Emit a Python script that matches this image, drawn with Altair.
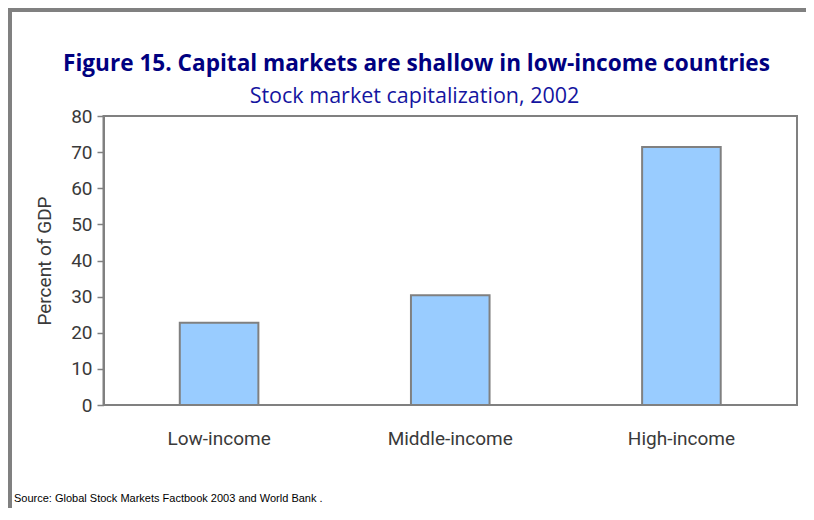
import altair as alt
import pandas as pd

categories = ["Low-income", "Middle-income", "High-income"]
values = [22.8, 30.4, 71.4]
y_ticks = [0, 10, 20, 30, 40, 50, 60, 70, 80]

title_text = "Figure 15. Capital markets are shallow in low-income countries"
subtitle_text = "Stock market capitalization, 2002"
y_title = "Percent of GDP"
source_text = "Source: Global Stock Markets Factbook 2003 and World Bank ."

df = pd.DataFrame({"category": categories, "value": values})

GRAY = "#808080"
LABEL = "#3a3a3a"

bars = alt.Chart(df).mark_bar(
    fill="#99CCFF", stroke=GRAY, strokeWidth=2
).encode(
    x=alt.X(
        "category:N", sort=categories,
        scale=alt.Scale(paddingInner=0.66, paddingOuter=0.33),
        axis=alt.Axis(title=None, labelAngle=0, ticks=False, domain=False,
                      labelPadding=24, labelFontSize=19, labelColor=LABEL,
                      labelFont="Roboto"),
    ),
    y=alt.Y(
        "value:Q", scale=alt.Scale(domain=[0, 80]),
        axis=alt.Axis(values=y_ticks, title=y_title, grid=False,
                      domainColor=GRAY, domainWidth=2, tickColor=GRAY,
                      tickSize=6.5, tickWidth=1.5, labelPadding=5,
                      labelFontSize=19, labelColor=LABEL, labelFont="Roboto",
                      titleFontSize=19, titleFontWeight="normal",
                      titleColor=LABEL, titleFont="Roboto", titlePadding=16),
    ),
)

one = alt.Data(values=[{"k": 1}])

frame_left = alt.Chart(one).mark_rule(color=GRAY, strokeWidth=4).encode(
    x=alt.value(-93.5), y=alt.value(-110), y2=alt.value(395)
)
frame_top = alt.Chart(one).mark_rule(color=GRAY, strokeWidth=4).encode(
    x=alt.value(-96), x2=alt.value(705), y=alt.value(-106)
)
title = alt.Chart(one).mark_text(
    align="center", baseline="alphabetic", font="Open Sans", fontSize=22.6,
    fontWeight="bold", color="#000080"
).encode(x=alt.value(313), y=alt.value(-45.3), text=alt.value(title_text))
subtitle = alt.Chart(one).mark_text(
    align="center", baseline="alphabetic", font="Open Sans", fontSize=21.5,
    color="#1414A0"
).encode(x=alt.value(311), y=alt.value(-12.7), text=alt.value(subtitle_text))
source = alt.Chart(one).mark_text(
    align="left", baseline="alphabetic", fontSize=11,
    font="Liberation Sans", color="#000000"
).encode(
    x=alt.value(-89.5), y=alt.value(385.5), text=alt.value(source_text)
)

chart = alt.layer(bars, frame_left, frame_top, title, subtitle, source).properties(
    width=693.5, height=289,
    padding={"left": 95.5, "top": 108, "right": 9, "bottom": 103},
    autosize=alt.AutoSizeParams(type="none"),
).configure_view(stroke=GRAY, strokeWidth=2)

chart.save("out.html", embed_options={"renderer": "svg", "actions": False})
